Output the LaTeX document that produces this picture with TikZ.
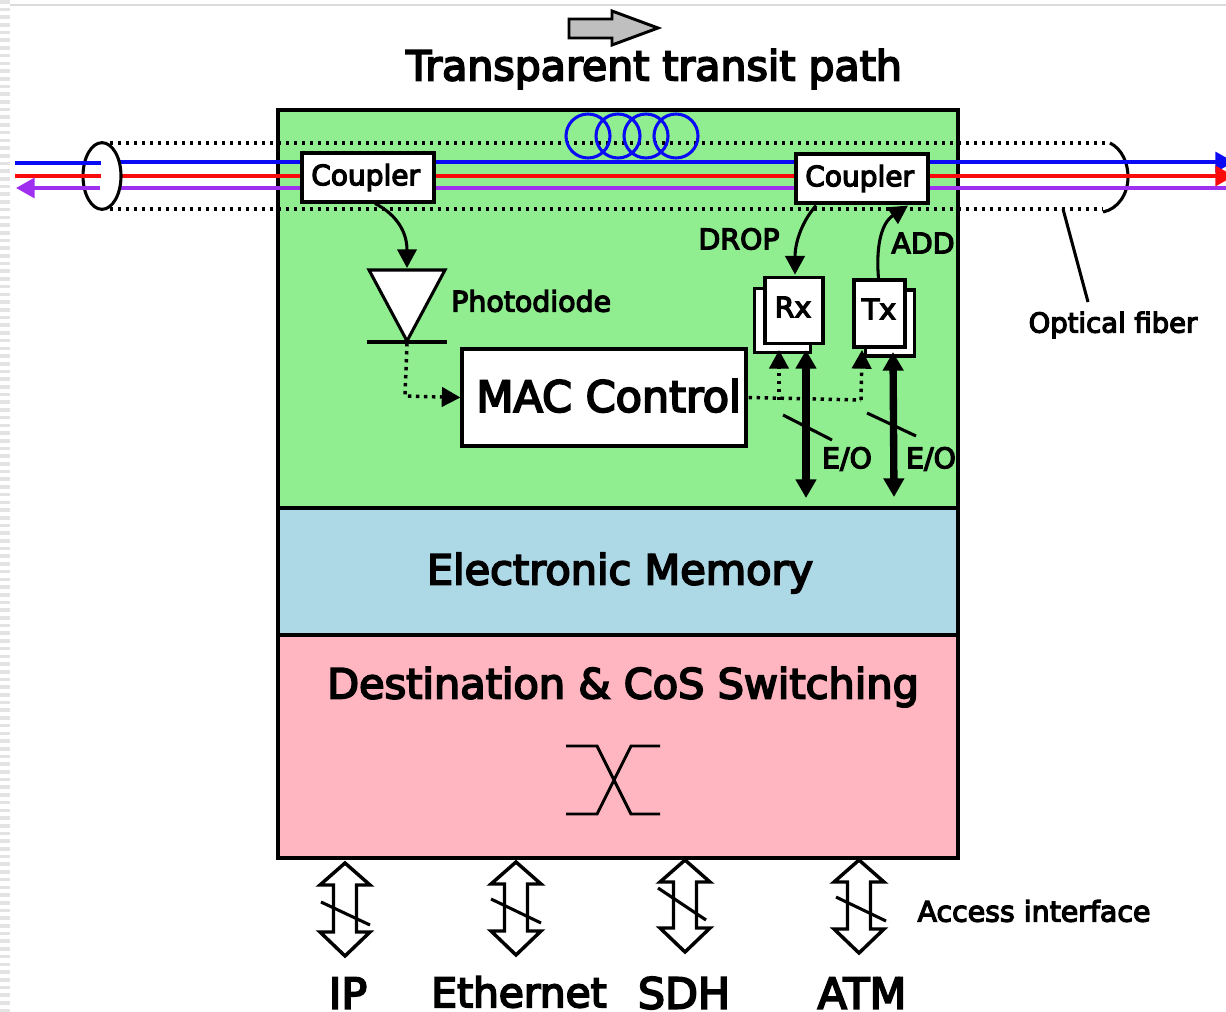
\documentclass[tikz,border=0pt]{standalone}
\usepackage{fontspec}
\usetikzlibrary{arrows.meta,shapes.geometric,calc}
\newfontfamily\verafont[RawFeature={embolden=4.5}]{DejaVu Sans}
\definecolor{pgreen}{HTML}{90EE90}
\definecolor{pblue}{HTML}{ADD8E6}
\definecolor{ppink}{HTML}{FFB6C1}
\definecolor{fblue}{HTML}{0A0AF5}
\definecolor{fred}{HTML}{FA0A0A}
\definecolor{fpurple}{HTML}{A030F0}
\tikzset{
  panel/.style={draw=black,line width=2.4pt},
  box/.style={draw=black,fill=white,line width=2.3pt,inner sep=0pt,font=\verafont\fontsize{21}{24}\selectfont},
  lab/.style={inner sep=0pt,font=\verafont\fontsize{21.3}{24}\selectfont},
  big/.style={inner sep=0pt,font=\verafont\fontsize{31.1}{34}\selectfont},
  fibre/.style={line width=2.4pt},
  dots/.style={line width=2.6pt,dash pattern=on 2.6pt off 3.4pt},
  conn/.style={line width=2.3pt,-{Triangle[length=14pt,width=14.5pt]}},
  dotconn/.style={dots,-{Triangle[length=14pt,width=14.5pt,sep=0pt]}},
  thick2/.style={line width=5.5pt,{Triangle[length=14pt,width=15pt]}-{Triangle[length=14pt,width=15pt]}},
  slash/.style={line width=2.3pt},
  dbl/.style={draw=black,fill=white,line width=2.6pt,line join=miter},
}
\newcommand{\dblarrow}[3]{% centre x, top y, bottom y
  \path[dbl] (#1,#2) -- (#1+25,#2+22) -- (#1+11.5,#2+22) -- (#1+11.5,#3-24) -- (#1+25,#3-24)
    -- (#1,#3) -- (#1-25,#3-24) -- (#1-11.5,#3-24) -- (#1-11.5,#2+22) -- (#1-25,#2+22) -- cycle;}
\begin{document}
\begin{tikzpicture}[x=0.75pt,y=-0.75pt]
\path[use as bounding box,clip] (0,0) rectangle (1226,1012);
% screenshot margin
\foreach \i in {0,...,131} \fill[gray!22] (0,{\i*7.7}) rectangle (10,{\i*7.7+3.6});
\draw[gray!28,line width=1.5pt] (10,5) -- (1226,5);
% panels
\node[panel,fill=pgreen,minimum width=510pt,minimum height=298.5pt,inner sep=0pt] (green) at (618,309) {};
\node[panel,fill=pblue,minimum width=510pt,minimum height=95.25pt,inner sep=0pt] (blue) at (618,571.5) {};
\node[panel,fill=ppink,minimum width=510pt,minimum height=167.25pt,inner sep=0pt] (pink) at (618,746.5) {};
% transit arrow
\path[draw=black,fill=gray!50,line width=2.2pt] (569,19) -- (612,19) -- (612,11) -- (658,28) -- (612,45) -- (612,38) -- (569,38) -- cycle;
\node[big,font=\verafont\fontsize{30.8}{34}\selectfont] (title) at (654,69) {Transparent transit path};
% fibre outline
\draw[dots] (110,143) -- (1110,143);
\draw[dots] (110,209) -- (1103,209);
\draw[line width=2.3pt] (1110,143) .. controls (1122,149) and (1128,163) .. (1128,177) .. controls (1128,194) and (1118,209) .. (1103,212);
% wavelengths
\draw[fibre,fblue,-{Triangle[length=14pt,width=15pt]}] (110,162) -- (1234,162);
\draw[fibre,fred,-{Triangle[length=14pt,width=15pt]}] (110,176) -- (1234,176);
\draw[fibre,fpurple] (110,188) -- (1226,188);
\node[draw=black,fill=white,line width=2.3pt,ellipse,inner sep=0pt,minimum width=28.5pt,minimum height=50pt] (cap) at (102,176) {};
\draw[fibre,fblue] (15,163) -- (101,163);
\draw[fibre,fred] (15,176) -- (101,176);
\draw[fibre,fpurple,-{Triangle[length=14pt,width=15pt]}] (100,188) -- (16,188);
% coil
\foreach \cx in {588,618,646,676} \draw[fblue,line width=2.3pt] (\cx,136) circle [radius=22];
% couplers
\node[box,minimum width=99pt,minimum height=36.75pt] (c1) at (368,177.5) {\raisebox{-3pt}{Coupler}\kern 3.5pt\null};
\node[box,minimum width=99pt,minimum height=36.75pt] (c2) at (862,178.5) {\raisebox{-3pt}{Coupler}\kern 3.5pt\null};
% photodiode
\coordinate (pdt) at (407,268);
\coordinate (pdk) at (407,343);
\draw[line width=2.3pt,fill=white,line join=miter] (369,270) -- (445,270) -- (407,341) -- cycle;
\draw[line width=2.3pt] (367,342) -- (447,342);
\node[lab,anchor=west] (pdl) at (451,301) {Photodiode};
\draw[conn] ($(c1.south)+(7,0)$) .. controls (392,212) and (407,228) .. (pdt);
% MAC
\node[box,font=\verafont\fontsize{32.2}{36}\selectfont,minimum width=213pt,minimum height=72.75pt] (mac) at (604,397.5) {\hspace{7pt}\raisebox{3pt}{MAC Control}};
\draw[dotconn] (pdk) -- (405,396) -- (mac.west);
% Rx Tx
\node[box,minimum width=42.5pt,minimum height=48pt] (rxb) at (782.5,320.5) {};
\node[box,minimum width=43.5pt,minimum height=50pt] (rx) at (794,310.5) {};
\node[lab,anchor=center] (rxl) at (793,307) {Rx};
\node[box,minimum width=37pt,minimum height=49.5pt] (txb) at (890,323) {};
\node[box,minimum width=38.25pt,minimum height=50.25pt] (tx) at (879.5,313.5) {};
\node[lab,anchor=center] (txl) at (879,309) {Tx};
\draw[conn] ($(c2.south)+(-46,1)$) .. controls (800,224) and (795,245) .. ($(rx.north)+(1,-1)$);
\draw[conn] ($(tx.north)+(-1,0)$) .. controls (876,250) and (880,224) .. ($(c2.south)+(46,1)$);
\node[lab] (drop) at (739,239) {DROP};
\node[lab] (add) at (923,243) {ADD};
% electrical paths
\coordinate (j1) at (779,400);
\coordinate (j2) at (861,400);
\draw[dots] ($(mac.east)+(1,0)$) -- (j2);
\draw[dotconn] (j1) -- (779,350);
\draw[dotconn] (j2) -- (862,350);
\coordinate (b1) at (806,498);
\coordinate (b2) at (894,497);
\draw[thick2] (806,350) -- (b1);
\draw[thick2] (893,352) -- (b2);
\draw[slash] (783,415) -- (832,440);
\draw[slash] (867,413) -- (916,436);
\node[lab] (eo1) at (847,459) {E/O};
\node[lab] (eo2) at (931,459) {E/O};
% optical fibre label
\node[lab,font=\verafont\fontsize{20.6}{24}\selectfont] (ofl) at (1113,325) {Optical fiber};
\draw[line width=2.3pt] (1063,209) -- (1088,302);
% memory
\node[big] (mem) at (620,573) {Electronic Memory};
\node[big] (dest) at (623,687) {Destination \& CoS Switching};
% crossbar
\draw[line width=2.2pt] (566,746) -- (597,746) -- (631,814) -- (660,814);
\draw[line width=2.2pt] (566,814) -- (597,814) -- (631,746) -- (660,746);
% access arrows
\dblarrow{345}{863}{956}
\dblarrow{516}{862}{955}
\dblarrow{685}{860}{952}
\dblarrow{859}{860}{953}
\draw[slash] (321,902) -- (370,925);
\draw[slash] (491,899) -- (541,923);
\draw[slash] (658,888) -- (706,920);
\draw[slash] (836,897) -- (886,921);
\node[lab] (acc) at (1034,911) {Access interface};
\node[big,font=\verafont\fontsize{32}{36}\selectfont] (ip) at (348,993) {IP};
\node[big,font=\verafont\fontsize{30.5}{34}\selectfont] (eth) at (519,992) {Ethernet};
\node[big,font=\verafont\fontsize{32}{36}\selectfont] (sdh) at (684,993) {SDH};
\node[big,font=\verafont\fontsize{32}{36}\selectfont] (atm) at (862,993) {ATM};
\end{tikzpicture}
\end{document}
